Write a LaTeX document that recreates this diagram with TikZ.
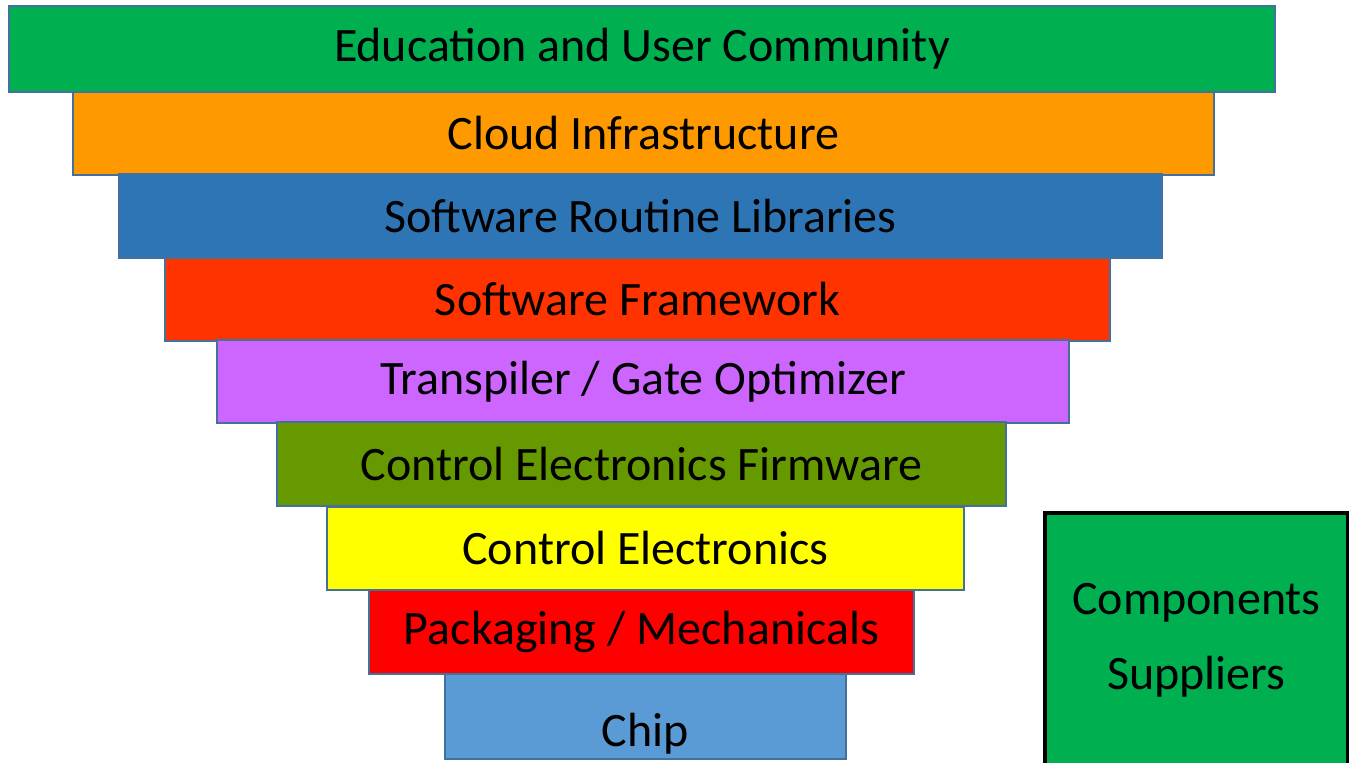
\documentclass[tikz,border=0pt]{standalone}
\usepackage{fontspec}
\setmainfont{Carlito}
\usetikzlibrary{positioning}

\definecolor{layerline}{HTML}{41719C}
\definecolor{eduGreen}{HTML}{00B050}
\definecolor{cloudOrange}{HTML}{FF9900}
\definecolor{libBlue}{HTML}{2E75B6}
\definecolor{fwRed}{HTML}{FF3300}
\definecolor{transPurple}{HTML}{CC66FF}
\definecolor{firmOlive}{HTML}{669900}
\definecolor{ctrlYellow}{HTML}{FFFF00}
\definecolor{packRed}{HTML}{FF0000}
\definecolor{chipBlue}{HTML}{5B9BD5}

\tikzset{
  layer/.style={draw=layerline, line width=1pt, inner sep=0pt, anchor=north west,
    font=\fontsize{24}{28}\selectfont},
  supplier/.style={draw=black, line width=2pt, inner sep=0pt, anchor=north west,
    fill=eduGreen, align=center, font=\fontsize{24}{37.5}\selectfont}
}

\begin{document}
\begin{tikzpicture}[x=0.5pt,y=-0.5pt]
    \clip (0,0) rectangle (1349,763);
    % stack, top to bottom
    \node[layer, fill=eduGreen, minimum width=633pt, minimum height=43pt] (edu) at (8,5) {Education and User Community};
    \node[layer, fill=cloudOrange, minimum width=570.5pt, minimum height=41.5pt] (cloud) at (72,91) {Cloud Infrastructure};
    \node[layer, fill=libBlue, minimum width=521.5pt, minimum height=42pt] (libs) at (118,173) {Software Routine Libraries};
    \node[layer, fill=fwRed, minimum width=472.5pt, minimum height=41.5pt] (frame) at (164,257) {Software Framework};
    \node[layer, fill=transPurple, minimum width=426pt, minimum height=41.5pt] (transp) at (216,339) {Transpiler / Gate Optimizer};
    \node[layer, fill=firmOlive, minimum width=364.5pt, minimum height=42pt] (firm) at (276,421) {Control Electronics Firmware};
    \node[layer, fill=ctrlYellow, minimum width=318.5pt, minimum height=41.5pt] (ctrl) at (326,506) {Control Electronics};
    \node[layer, fill=packRed, minimum width=272.5pt, minimum height=42pt] (pack) at (368,589) {Packaging / Mechanicals};
    % chip label sits low in its bar
    \node[layer, fill=chipBlue, minimum width=200.5pt, minimum height=42.5pt] (chip) at (444,673) {\raisebox{-8.5pt}[\height][\depth]{Chip}};
    % side box
    \node[supplier, minimum width=151.5pt, minimum height=127.5pt] (supp) at (1043,511) {Components\\Suppliers};
\end{tikzpicture}
\end{document}
